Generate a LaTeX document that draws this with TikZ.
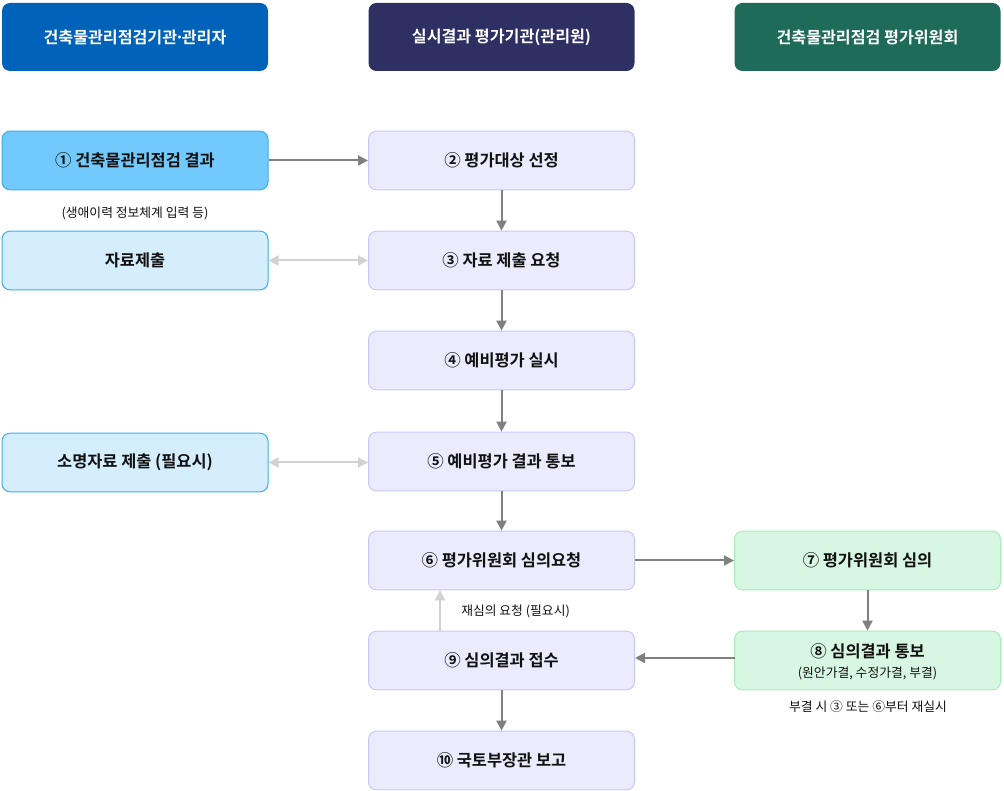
\documentclass[tikz,border=0pt]{standalone}
\usepackage{fontspec}
\setmainfont{Noto Sans CJK KR}
\newfontfamily\krbold{Noto Sans CJK KR Bold}
\usetikzlibrary{arrows.meta}
\definecolor{hblue}{HTML}{0062B8}
\definecolor{hnavy}{HTML}{2E2F62}
\definecolor{hgreen}{HTML}{1F6B5A}
\definecolor{lbfill}{HTML}{72C9FC}
\definecolor{lbdraw}{HTML}{3BAEF0}
\definecolor{llfill}{HTML}{D4EEFD}
\definecolor{mfill}{HTML}{EBEBFD}
\definecolor{mdraw}{HTML}{C8C8F7}
\definecolor{gfill}{HTML}{D8F7E2}
\definecolor{gdraw}{HTML}{A8EBB8}
\definecolor{arr}{HTML}{808080}
\definecolor{larr}{HTML}{D2D2D2}
\definecolor{txt}{HTML}{111111}
\tikzset{
  px/.style={x=0.75pt,y=-0.75pt},
  box/.style={rectangle, rounded corners=6pt, minimum width=199.5pt, minimum height=44pt, inner sep=0pt, align=center, line width=0.75pt, text=txt, font=\krbold\fontsize{12.3pt}{14pt}\selectfont},
  head/.style={box, draw=none, text=white, minimum height=51pt, font=\krbold\fontsize{12.1pt}{14pt}\selectfont},
  leftA/.style={box, fill=lbfill, draw=lbdraw},
  leftB/.style={box, fill=llfill, draw=lbdraw},
  mid/.style={box, fill=mfill, draw=mdraw},
  grn/.style={box, fill=gfill, draw=gdraw},
  note/.style={inner sep=0pt, text=txt, font=\fontsize{9.6pt}{11pt}\selectfont},
  flow/.style={draw=arr, line width=1.5pt, -{Triangle[length=7.5pt,width=7.5pt]}},
  lflow/.style={draw=larr, line width=1.5pt, {Triangle[length=7.5pt,width=7.5pt]}-{Triangle[length=7.5pt,width=7.5pt]}},
  uflow/.style={draw=larr, line width=1.5pt, -{Triangle[length=7.5pt,width=7.5pt]}}
}
\begin{document}
\begin{tikzpicture}[px]
\useasboundingbox (0,0) rectangle (1004,791);
% headers
\node[head, fill=hblue] (h1) at (135,37) {건축물관리점검기관\kern-0.15em·\kern-0.15em관리자};
\node[head, fill=hnavy] (h2) at (501.5,37) {실시결과 평가기관(관리원)};
\node[head, fill=hgreen] (h3) at (867.5,37) {건축물관리점검 평가위원회};
% left column
\node[leftA] (l1) at (135,160.5) {① 건축물관리점검 결과};
\node[note] (n1) at (135,213) {(생애이력 정보체계 입력 등)};
\node[leftB] (l2) at (135,260.5) {자료제출};
\node[leftB] (l3) at (135,462.5) {소명자료 제출 (필요시)};
% middle column
\node[mid] (m2) at (501.5,160.5) {② 평가대상 선정};
\node[mid] (m3) at (501.5,260.5) {③ 자료 제출 요청};
\node[mid] (m4) at (501.5,360.5) {④ 예비평가 실시};
\node[mid] (m5) at (501.5,461.5) {⑤ 예비평가 결과 통보};
\node[mid] (m6) at (501.5,560.5) {⑥ 평가위원회 심의요청};
\node[mid] (m9) at (501.5,660.5) {⑨ 심의결과 접수};
\node[mid] (m10) at (501.5,760.5) {⑩ 국토부장관 보고};
% right column
\node[grn] (r7) at (867.5,560.5) {⑦ 평가위원회 심의};
\node[grn] (r8) at (867.5,660.5) {};
\node[text=txt, font=\krbold\fontsize{12.3pt}{14pt}\selectfont, inner sep=0pt] (r8a) at (867.5,651) {⑧ 심의결과 통보};
\node[note] (r8b) at (867.5,673) {(원안가결, 수정가결, 부결)};
\node[note] (n3) at (868,707) {부결 시 ③ 또는 ⑥부터 재실시};
\node[note, anchor=west] (n2) at (461,611) {재심의 요청 (필요시)};
% connectors
\draw[flow] (l1.east) -- (m2.west);
\draw[flow] (m2) -- (m3);
\draw[lflow] (l2.east) -- (m3.west);
\draw[flow] (m3) -- (m4);
\draw[flow] (m4) -- (m5);
\draw[lflow] (l3.east) -- (l3.east -| m5.west);
\draw[flow] (m5) -- (m6);
\draw[flow] (m6) -- (r7);
\draw[flow] (r7) -- (r8);
\coordinate (c8) at (735,658);
\draw[flow] (c8) -- (c8 -| m9.east);
\coordinate (c9) at (440,631);
\draw[uflow] (c9) -- (c9 |- m6.south);
\draw[flow] (m9) -- (m10);
\end{tikzpicture}
\end{document}
